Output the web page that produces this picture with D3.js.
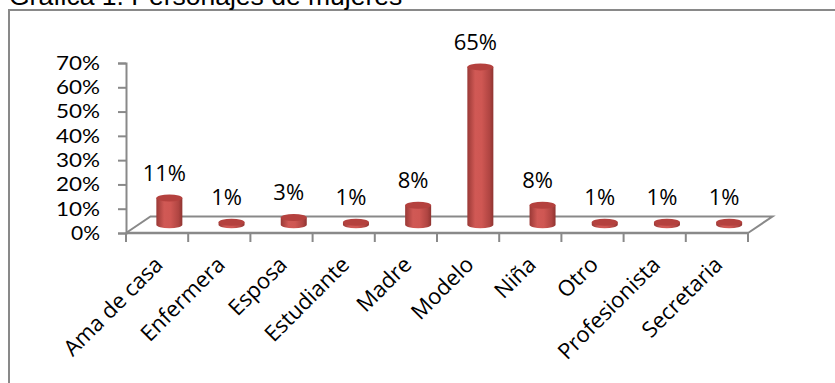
<!DOCTYPE html>
<html>
<head>
<meta charset="utf-8">
<script src="https://cdn.jsdelivr.net/npm/d3@7"></script>
<style>
  html, body { margin: 0; padding: 0; background: #fff; overflow: hidden; }
  svg { display: block; }
</style>
</head>
<body>
<svg id="chart" width="835" height="383"></svg>
<script>
const categories = ["Ama de casa", "Enfermera", "Esposa", "Estudiante", "Madre", "Modelo", "Niña", "Otro", "Profesionista", "Secretaria"];
const values = [0.11, 0.01, 0.03, 0.01, 0.08, 0.65, 0.08, 0.01, 0.01, 0.01];
const valueLabels = ["11%", "1%", "3%", "1%", "8%", "65%", "8%", "1%", "1%", "1%"];
const yTicks = [0, 0.1, 0.2, 0.3, 0.4, 0.5, 0.6, 0.7];
const title = "Gráfica 1.  Personajes de mujeres";

const svg = d3.select("#chart");
const font = "'Open Sans', 'Noto Sans', sans-serif";
const gray = "#898989";

// outer frame (extends past viewport)
svg.append("rect").attr("x", 9).attr("y", 10).attr("width", 1000).attr("height", 600)
  .attr("fill", "none").attr("stroke", gray).attr("stroke-width", 2);

// title, partially cut off at top
svg.append("text").attr("x", 9).attr("y", 5)
  .attr("font-family", "'Liberation Sans', Arial, sans-serif").attr("font-size", 26.5)
  .attr("fill", "#000").text(title);

// geometry
const x0 = 126, x1 = 748, yFront = 233;
const depthX = 24.5, depthY = -16.5;
const x = d3.scaleBand().domain(categories).range([x0, x1]);
const yAxisScale = d3.scaleLinear().domain([0, 0.7]).range([yFront, 63]);
const yBar = d3.scaleLinear().domain([0, 0.7]).range([yFront + depthY / 2, 63 + depthY / 2]);

// floor
const floor = svg.append("g").attr("stroke", gray).attr("stroke-width", 2).attr("fill", "none");
floor.append("path").attr("d",
  `M${x0},${yFront} L${x0 + depthX},${yFront + depthY} L${x1 + depthX},${yFront + depthY} L${x1},${yFront}`);

// y axis
const yAxis = d3.axisLeft(yAxisScale).tickValues(yTicks).tickSize(8).tickPadding(18)
  .tickFormat(d3.format(".0%"));
const yg = svg.append("g").attr("transform", `translate(${x0},0)`).call(yAxis);
yg.select(".domain").attr("stroke", gray).attr("stroke-width", 2);
yg.selectAll(".tick line").attr("stroke", gray).attr("stroke-width", 2);
yg.selectAll(".tick text").attr("font-family", "Lato, 'Open Sans', sans-serif").attr("font-size", 20)
  .attr("fill", "#000").attr("textLength", function () { return this.textContent.length === 3 ? 44 : 29; })
  .attr("lengthAdjust", "spacingAndGlyphs");

// x axis
const xAxis = d3.axisBottom(x).tickSize(0).tickFormat("");
const xg = svg.append("g").attr("transform", `translate(0,${yFront})`).call(xAxis);
xg.select(".domain").attr("stroke", gray).attr("stroke-width", 2.5).attr("d", `M${x0},0H${x1}`);
// ticks at band boundaries
const bounds = categories.map(c => x(c)).concat([x1]);
xg.selectAll(".btick").data(bounds).enter().append("line").attr("class", "btick")
  .attr("x1", d => d).attr("x2", d => d).attr("y1", 0).attr("y2", 9)
  .attr("stroke", gray).attr("stroke-width", 2);

// category labels
svg.append("g").selectAll("text").data(categories).enter().append("text")
  .attr("transform", d => `translate(${x(d) + x.bandwidth() / 2 + 7},${yFront + 33}) rotate(-45)`)
  .attr("text-anchor", "end")
  .attr("font-family", font).attr("font-size", 22).attr("fill", "#000")
  .text(d => d);

// cylinders
const defs = svg.append("defs");
const grad = defs.append("linearGradient").attr("id", "cyl").attr("x1", "0").attr("x2", "1").attr("y1", "0").attr("y2", "0");
[["0%", "#9a3936"], ["30%", "#d05955"], ["55%", "#cf5753"], ["85%", "#b04542"], ["100%", "#8f3431"]]
  .forEach(([o, c]) => grad.append("stop").attr("offset", o).attr("stop-color", c));

const r = 13, ry = 3.5;
const bars = svg.append("g").selectAll("g").data(categories).enter().append("g");
bars.append("path")
  .attr("d", (d, i) => {
    const cx = x(d) + x.bandwidth() / 2 + depthX / 2;
    const yb = yBar(0), yt = yBar(values[i]);
    return `M${cx - r},${yt} L${cx - r},${yb} A${r},${ry} 0 0 0 ${cx + r},${yb} L${cx + r},${yt} Z`;
  })
  .attr("fill", "url(#cyl)");
bars.append("ellipse")
  .attr("cx", d => x(d) + x.bandwidth() / 2 + depthX / 2)
  .attr("cy", (d, i) => yBar(values[i]))
  .attr("rx", r).attr("ry", ry)
  .attr("fill", "#b4413e");

// value labels
svg.append("g").selectAll("text").data(categories).enter().append("text")
  .attr("x", d => x(d) + x.bandwidth() / 2 + depthX / 2 - 5)
  .attr("y", (d, i) => yBar(values[i]) - 17)
  .attr("text-anchor", "middle")
  .attr("font-family", font).attr("font-size", 22).attr("fill", "#000")
  .text((d, i) => valueLabels[i]);
</script>
</body>
</html>
